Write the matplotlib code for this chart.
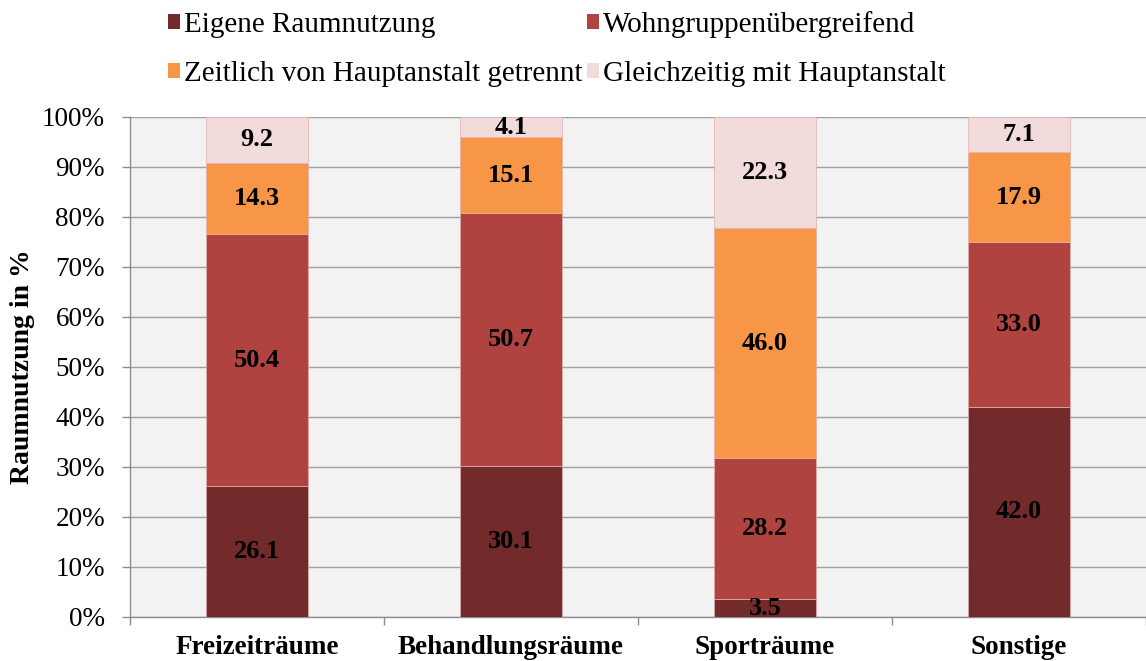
import matplotlib
matplotlib.use('Agg')
import matplotlib.pyplot as plt
from matplotlib.patches import Patch
from matplotlib.ticker import FuncFormatter
import numpy as np

plt.rcParams['font.family'] = ['Liberation Serif', 'DejaVu Serif']

categories = ['Freizeiträume', 'Behandlungsräume', 'Sporträume', 'Sonstige']
series_names = ['Eigene Raumnutzung', 'Wohngruppenübergreifend',
                'Zeitlich von Hauptanstalt getrennt', 'Gleichzeitig mit Hauptanstalt']
eigene = [26.1, 30.1, 3.5, 42.0]
wohngruppe = [50.4, 50.7, 28.2, 33.0]
zeitlich = [14.3, 15.1, 46.0, 17.9]
gleichzeitig = [9.2, 4.1, 22.3, 7.1]
colors = ['#722a2a', '#b04340', '#f79646', '#f2dcdb']

fig = plt.figure(figsize=(11.46, 6.61), dpi=100)
ax = fig.add_axes([0.1134, 0.0666, 0.8866, 0.7564])
ax.set_facecolor('#f2f2f2')

x = np.arange(len(categories))
bottom = np.zeros(len(categories))
for vals, col in zip([eigene, wohngruppe, zeitlich, gleichzeitig], colors):
    ax.bar(x, vals, width=0.4, bottom=bottom, color=col,
           edgecolor='#e0b0ae', linewidth=0.5, zorder=3)
    for xi, v, b in zip(x, vals, bottom):
        ax.text(xi, b + v / 2, f'{v:.1f}', ha='center', va='center',
                fontsize=19, fontweight='bold', color='black', zorder=4)
    bottom += np.array(vals)

ax.set_xlim(-0.5, len(categories) - 0.5)
ax.set_ylim(0, 100)
ax.set_yticks(np.arange(0, 101, 10))
ax.yaxis.set_major_formatter(FuncFormatter(lambda v, p: f'{int(v)}%'))
ax.yaxis.grid(True, color='#a0a0a0', linewidth=1, zorder=0)
ax.set_axisbelow(True)

ax.set_xticks(np.arange(-0.5, len(categories), 1), minor=False)
ax.set_xticklabels([])
ax.set_xticks(x, minor=True)
ax.set_xticklabels(categories, minor=True, fontsize=19.5, fontweight='bold')
ax.tick_params(axis='x', which='minor', length=0, pad=13)
ax.tick_params(axis='x', which='major', length=6, color='#8c8c8c', width=1)
ax.tick_params(axis='y', length=6, color='#8c8c8c', width=1, labelsize=19.5, pad=12)

for s in ['top', 'right']:
    ax.spines[s].set_visible(False)
for s in ['left', 'bottom']:
    ax.spines[s].set_color('#8c8c8c')
    ax.spines[s].set_linewidth(1)

ax.set_ylabel('Raumnutzung in %', fontsize=20, fontweight='bold', va='center')
ax.yaxis.set_label_coords(-0.106, 0.5)

handles = [Patch(facecolor=c, edgecolor='none') for c in colors]
order = [0, 2, 1, 3]
fig.legend([handles[i] for i in order], [series_names[i] for i in order],
           ncol=2, loc='upper left', bbox_to_anchor=(168 / 1146, 0.984),
           frameon=False, fontsize=21, handlelength=0.42, handleheight=0.42,
           handletextpad=0.12, columnspacing=0.16, labelspacing=0.79,
           borderpad=0, borderaxespad=0)

fig.savefig('out.png', dpi=100)
